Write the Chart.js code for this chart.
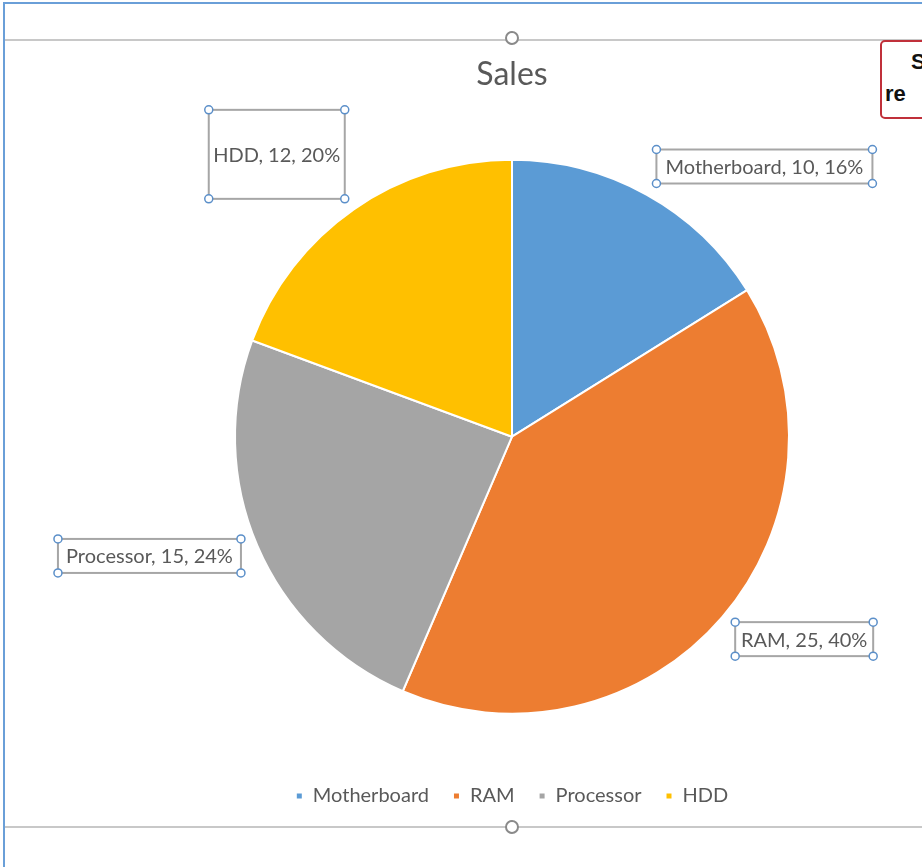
<!DOCTYPE html>
<html>
<head>
<meta charset="utf-8">
<script src="https://cdn.jsdelivr.net/npm/chart.js@4"></script>
<style>
  html, body { margin: 0; padding: 0; background: #fff; }
  body { width: 922px; height: 867px; position: relative; overflow: hidden; font-family: Lato, sans-serif; }
  #frame { position: absolute; left: 3px; top: 2px; right: -10px; bottom: -10px; border-left: 2px solid #6a9fd8; border-top: 2px solid #6a9fd8; }
  .rule { position: absolute; left: 5px; right: 0; height: 2px; background: #c8c8c8; }
  .knob { position: absolute; width: 10px; height: 10px; border: 2px solid #8a8a8a; border-radius: 50%; background: #fff; }
  #note { position: absolute; left: 880px; top: 40px; width: 70px; height: 75px; border: 2px solid #c0303a; border-radius: 5px; background: #fff; font: bold 22px "Liberation Sans", sans-serif; color: #111; }
  #chartWrap { position: absolute; left: 0; top: 0; width: 922px; height: 867px; }
</style>
</head>
<body>
<div id="frame"></div>
<div class="rule" style="top: 39px;"></div>
<div class="rule" style="top: 826px;"></div>
<div class="knob" style="left: 505px; top: 31px;"></div>
<div class="knob" style="left: 505px; top: 820px;"></div>
<div id="note"><div style="position:absolute; left:29px; top:7px;">S</div><div style="position:absolute; left:3px; top:39px;">re</div></div>
<div id="chartWrap"><canvas id="myChart" width="922" height="867"></canvas></div>
<script>
document.addEventListener('DOMContentLoaded', () => {
    // chart data
    const categories = ['Motherboard', 'RAM', 'Processor', 'HDD'];
    const sales = [10, 25, 15, 12];
    const shownPercent = [16, 40, 24, 20];
    const colors = ['#5b9bd5', '#ed7d31', '#a5a5a5', '#ffc000'];

    // where each data label box sits, relative to the slice's outer edge
    const labelShift = [[118, -28], [82, 22], [-108, 10], [-77, -55]];
    const labelBox = [[216, 34], [138, 34], [183, 34], [136, 89]];

    const boxLabels = {
        id: 'boxLabels',
        afterDatasetsDraw(chart) {
            const ctx = chart.ctx;
            const meta = chart.getDatasetMeta(0);
            ctx.save();
            meta.data.forEach((arc, i) => {
                const mid = (arc.startAngle + arc.endAngle) / 2;
                const cx = arc.x + Math.cos(mid) * arc.outerRadius + labelShift[i][0];
                const cy = arc.y + Math.sin(mid) * arc.outerRadius + labelShift[i][1];
                const w = labelBox[i][0], h = labelBox[i][1];
                const x0 = cx - w / 2, y0 = cy - h / 2;

                ctx.fillStyle = '#ffffff';
                ctx.fillRect(x0, y0, w, h);
                ctx.strokeStyle = '#a6a6a6';
                ctx.lineWidth = 2;
                ctx.strokeRect(x0, y0, w, h);

                ctx.fillStyle = '#595959';
                ctx.font = '20px Lato, sans-serif';
                ctx.textAlign = 'center';
                ctx.textBaseline = 'middle';
                ctx.fillText(`${categories[i]}, ${sales[i]}, ${shownPercent[i]}%`, cx, cy + 1);

                // selection handles
                [[x0, y0], [x0 + w, y0], [x0, y0 + h], [x0 + w, y0 + h]].forEach(([hx, hy]) => {
                    ctx.beginPath();
                    ctx.arc(hx, hy, 4, 0, Math.PI * 2);
                    ctx.fillStyle = '#ffffff';
                    ctx.fill();
                    ctx.strokeStyle = '#5b8fc9';
                    ctx.lineWidth = 1.5;
                    ctx.stroke();
                });
            });
            ctx.restore();
        }
    };

    const ctx = document.getElementById('myChart');
    new Chart(ctx, {
        type: 'pie',
        data: {
            labels: categories,
            datasets: [{
                label: 'Sales',
                data: sales,
                backgroundColor: colors,
                borderColor: '#ffffff',
                borderWidth: 2,
                radius: 277
            }]
        },
        options: {
            responsive: false,
            animation: false,
            devicePixelRatio: 1,
            layout: { padding: { left: 102, right: 0, top: 0, bottom: 51 } },
            plugins: {
                title: {
                    display: true,
                    text: 'Sales',
                    color: '#595959',
                    font: { family: 'Lato', size: 32, weight: 'normal' },
                    padding: { top: 55, bottom: 18 }
                },
                legend: {
                    position: 'bottom',
                    labels: {
                        color: '#595959',
                        font: { family: 'Lato', size: 20 },
                        boxWidth: 7,
                        boxHeight: 7,
                        padding: 24
                    }
                },
                tooltip: { enabled: false }
            }
        },
        plugins: [boxLabels]
    });
});
</script>
</body>
</html>
